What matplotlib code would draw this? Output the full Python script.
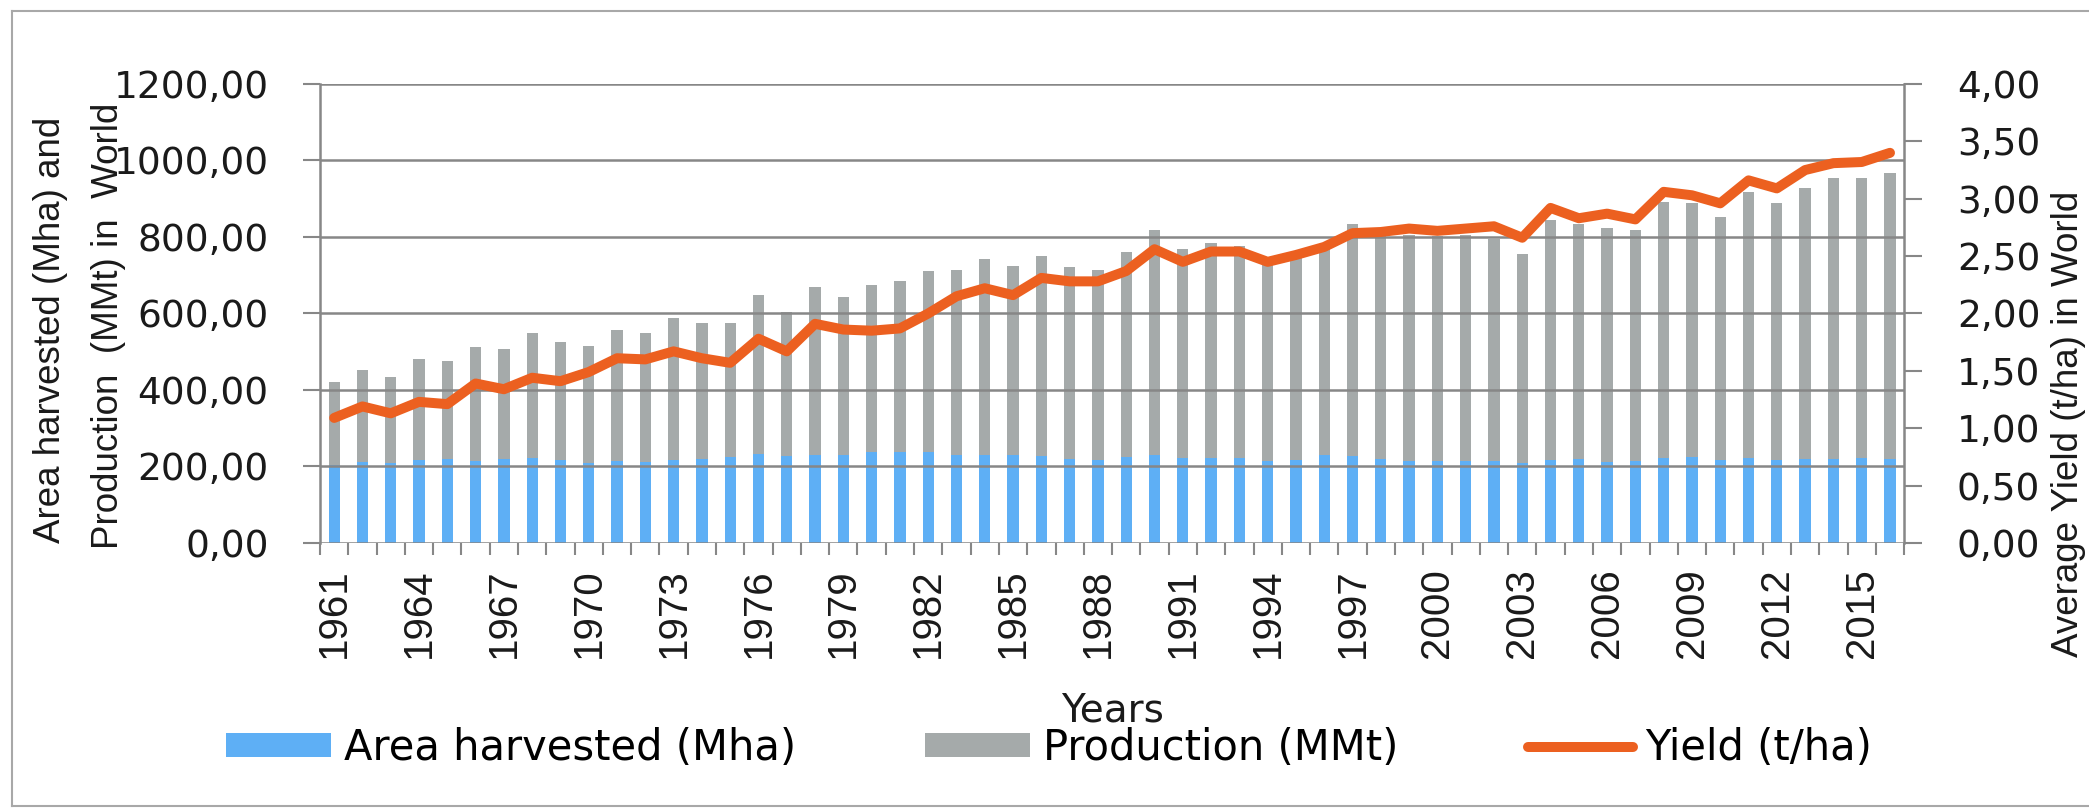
import matplotlib
matplotlib.use("Agg")
import matplotlib.pyplot as plt
from matplotlib.lines import Line2D
from matplotlib.ticker import FixedLocator
import numpy as np

# --- datos ---
years = list(range(1961, 2017))

area_mha = [204, 211, 209, 216, 220, 214, 220, 223, 218, 208,
            214, 211, 217, 220, 225, 233, 227, 229, 229, 237,
            239, 238, 230, 231, 229, 228, 219, 218, 226, 231,
            222, 223, 222, 214, 218, 230, 228, 220, 214, 215,
            215, 214, 208, 217, 220, 212, 215, 223, 226, 217,
            221, 216, 219, 220, 222, 220]

production_mmt = [218, 241, 226, 264, 257, 299, 288, 325, 307, 307,
                  343, 339, 372, 356, 351, 415, 378, 439, 415, 437,
                  446, 473, 484, 511, 496, 523, 502, 496, 534, 587,
                  547, 560, 554, 521, 542, 552, 606, 590, 591, 588,
                  591, 581, 547, 627, 615, 611, 603, 669, 662, 636,
                  697, 672, 708, 733, 733, 746]

yield_tha = [1.09, 1.19, 1.13, 1.23, 1.21, 1.39, 1.34, 1.44, 1.41, 1.49,
             1.61, 1.60, 1.67, 1.61, 1.57, 1.78, 1.67, 1.91, 1.86, 1.85,
             1.87, 2.00, 2.15, 2.22, 2.16, 2.31, 2.28, 2.28, 2.37, 2.56,
             2.45, 2.54, 2.54, 2.45, 2.51, 2.58, 2.70, 2.71, 2.74, 2.72,
             2.74, 2.76, 2.66, 2.92, 2.83, 2.87, 2.82, 3.06, 3.03, 2.96,
             3.16, 3.09, 3.25, 3.31, 3.32, 3.40]

left_ticks = [0, 200, 400, 600, 800, 1000, 1200]
right_ticks = [0, 0.5, 1.0, 1.5, 2.0, 2.5, 3.0, 3.5, 4.0]

# --- colores ---
azul = '#5eaff5'
gris = '#a5aaaa'
naranja = '#ec6020'
linea_gris = '#878787'
texto = '#1a1a1a'


def coma(v):
    return f"{v:.2f}".replace('.', ',')


fig = plt.figure(figsize=(20.89, 8.09), dpi=100)
ax = fig.add_axes([0.1532, 0.3288, 0.7583, 0.5674])

x = np.arange(len(years))
ax.bar(x, area_mha, width=0.4, color=azul, label='Area harvested (Mha)', zorder=1)
ax.bar(x, production_mmt, width=0.4, bottom=area_mha, color=gris,
       label='Production (MMt)', zorder=1)

ax.set_xlim(-0.5, len(years) - 0.5)
ax.set_ylim(0, 1200)
ax.set_yticks(left_ticks)
ax.set_yticklabels([coma(v) for v in left_ticks], fontsize=27, color=texto,
                   family='DejaVu Sans')
ax.tick_params(axis='y', length=12, width=1.5, color=linea_gris, pad=25)

# etiquetas de años cada 3, marcas entre categorias
idx = [i for i, y in enumerate(years) if (y - 1961) % 3 == 0]
ax.set_xticks(idx)
ax.set_xticklabels([str(years[i]) for i in idx], rotation=90, fontsize=29,
                   color=texto, family='Liberation Sans')
ax.xaxis.set_minor_locator(FixedLocator(np.arange(-0.5, len(years), 1)))
ax.tick_params(axis='x', which='major', length=0, pad=18)
ax.tick_params(axis='x', which='minor', length=8.5, width=1.5, color=linea_gris)

ax.yaxis.grid(True, color=linea_gris, lw=1.8)
ax.set_axisbelow(False)
for s in ['top', 'right', 'bottom']:
    ax.spines[s].set_visible(False)
ax.spines['left'].set_color(linea_gris)
ax.spines['left'].set_linewidth(1.8)

# eje derecho: rendimiento
ax2 = ax.twinx()
ax2.plot(x, yield_tha, color=naranja, lw=7.2, solid_joinstyle='round',
         solid_capstyle='round', label='Yield (t/ha)')
ax2.set_ylim(0, 4)
ax2.set_yticks(right_ticks)
ax2.set_yticklabels([coma(v) for v in right_ticks], fontsize=27, color=texto,
                    family='DejaVu Sans')
ax2.tick_params(axis='y', length=13, width=1.5, color=linea_gris, pad=25)
for s in ['top', 'left', 'bottom']:
    ax2.spines[s].set_visible(False)
ax2.spines['right'].set_color(linea_gris)
ax2.spines['right'].set_linewidth(1.8)

# titulos de ejes
fig.text(51 / 2089, 1 - 330 / 809, 'Area harvested (Mha) and', rotation=90,
         ha='center', va='center', fontsize=26.5, color=texto, family='Liberation Sans')
fig.text(109 / 2089, 1 - 326 / 809, 'Production  (MMt) in  World', rotation=90,
         ha='center', va='center', fontsize=26.5, color=texto, family='Liberation Sans')
fig.text(2068 / 2089, 1 - 424 / 809, 'Average Yield (t/ha) in World', rotation=90,
         ha='center', va='center', fontsize=26.5, color=texto, family='Liberation Sans')
fig.text(1112 / 2089, 1 - 711 / 809, 'Years', ha='center', va='center',
         fontsize=28, color=texto, family='DejaVu Sans')

# leyenda
h1, l1 = ax.get_legend_handles_labels()
h2, l2 = ax2.get_legend_handles_labels()
fig.legend(h1 + h2, l1 + l2, loc='center left', bbox_to_anchor=(226 / 2089, 0.0754),
           ncol=3, frameon=False, handlelength=2.52, handleheight=0.5,
           handletextpad=0.31, columnspacing=3.1, borderpad=0, borderaxespad=0,
           prop={'family': 'DejaVu Sans', 'size': 30})

# marco exterior
borde = '#a8a8a8'
fig.add_artist(Line2D([12 / 2089, 12 / 2089], [0.004, 1 - 11 / 809],
                      transform=fig.transFigure, color=borde, lw=1.5))
fig.add_artist(Line2D([12 / 2089, 1.0], [1 - 11 / 809, 1 - 11 / 809],
                      transform=fig.transFigure, color=borde, lw=1.5))
fig.add_artist(Line2D([12 / 2089, 1.0], [0.004, 0.004],
                      transform=fig.transFigure, color=borde, lw=1.5))

fig.savefig('out.png', dpi=100)
